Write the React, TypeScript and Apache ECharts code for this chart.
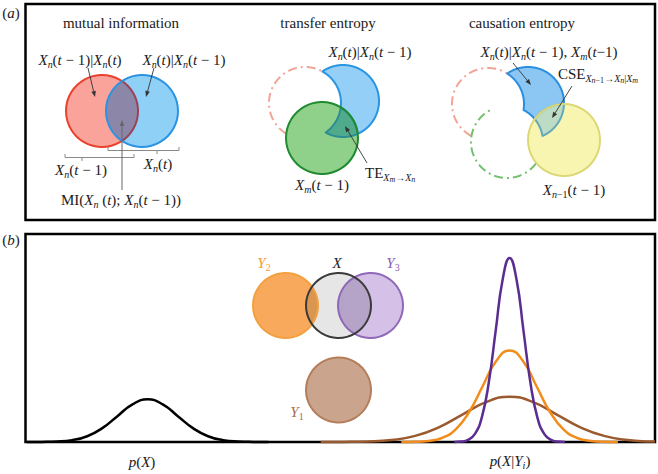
import React, { useEffect, useRef } from 'react';
import * as echarts from 'echarts';

// ---- Panel (b) data: [position across panel (0-100), density (fraction of panel height)] ----
const curvePX: number[][] = [[0.2,0],[2.6,0.0005],[5.0,0.0023],[7.4,0.009],[9.8,0.0277],[12.2,0.0666],[14.6,0.1243],[17.0,0.1809],[19.4,0.205],[21.8,0.1809],[24.2,0.1243],[26.6,0.0666],[29.0,0.0277],[31.4,0.009],[33.8,0.0023],[36.2,0.0005],[38.6,0]];
const curveY1: number[][] = [[46.9,0.0001],[50.65,0.0005],[54.4,0.0024],[58.15,0.0095],[61.9,0.0294],[65.65,0.0705],[69.4,0.1316],[73.15,0.1915],[76.9,0.217],[80.65,0.1915],[84.4,0.1316],[88.15,0.0705],[91.9,0.0294],[95.65,0.0095],[99.4,0.0024],[100,0.0019]];
const curveY2: number[][] = [[59.7,0.0001],[61.85,0.001],[64.0,0.0049],[66.15,0.0193],[68.3,0.0595],[70.45,0.1429],[72.6,0.2669],[74.75,0.3883],[76.9,0.44],[79.05,0.3883],[81.2,0.2669],[83.35,0.1429],[85.5,0.0595],[87.65,0.0193],[89.8,0.0049],[91.95,0.001],[94.1,0.0001]];
const curveY3: number[][] = [[68.1,0.0003],[69.2,0.0019],[70.3,0.0098],[71.4,0.0389],[72.5,0.1197],[73.6,0.2874],[74.7,0.5368],[75.8,0.781],[76.9,0.885],[78.0,0.781],[79.1,0.5368],[80.2,0.2874],[81.3,0.1197],[82.4,0.0389],[83.5,0.0098],[84.6,0.0019],[85.7,0.0003]];
const curveNames = ['p(X)', 'p(X|Y1)', 'p(X|Y2)', 'p(X|Y3)'];
const curveColors = ['#000000', '#9b5a2e', '#f28c1a', '#5a2d91'];

// ---- text / geometry helpers ----
const FF = 'Liberation Serif';
const TXT = '#1a1a1a';

function richSet(color: string) {
  return {
    r: { fontFamily: FF, fontSize: 15, lineHeight: 18, fill: color, verticalAlign: 'middle' },
    i: { fontFamily: FF, fontSize: 15, fontStyle: 'italic', lineHeight: 18, fill: color, verticalAlign: 'middle' },
    s: { fontFamily: FF, fontSize: 10, fontStyle: 'italic', lineHeight: 10, padding: [8, 0, 0, 0], fill: color, verticalAlign: 'middle' },
    sr: { fontFamily: FF, fontSize: 10, lineHeight: 10, padding: [8, 0, 0, 0], fill: color, verticalAlign: 'middle' },
    ss: { fontFamily: FF, fontSize: 8, fontStyle: 'italic', lineHeight: 8, padding: [12, 0, 0, 0], fill: color, verticalAlign: 'middle' },
    ssr: { fontFamily: FF, fontSize: 8, lineHeight: 8, padding: [12, 0, 0, 0], fill: color, verticalAlign: 'middle' },
  };
}
const RICH = richSet(TXT);

function txt(x: number, y: number, text: string, align = 'center', rich: any = RICH) {
  return {
    type: 'text', x, y, silent: true,
    style: { text, rich, align, verticalAlign: 'middle', fontFamily: FF, fontSize: 15, fill: TXT },
  };
}

type Circ = [number, number, number];
const N = 720;
function inside(p: number[], c: Circ) {
  const dx = p[0] - c[0], dy = p[1] - c[1];
  return dx * dx + dy * dy <= c[2] * c[2];
}
function runs(c: Circ, ok: (p: number[]) => boolean): number[][][] {
  const pts: number[][] = [], valid: boolean[] = [];
  for (let i = 0; i < N; i++) {
    const t = (2 * Math.PI * i) / N;
    const p = [c[0] + c[2] * Math.cos(t), c[1] + c[2] * Math.sin(t)];
    pts.push(p);
    valid.push(ok(p));
  }
  if (valid.every((v) => v)) return [pts.concat([pts[0]])];
  const start = valid.findIndex((v) => !v);
  if (start < 0) return [];
  const out: number[][][] = [];
  let cur: number[][] | null = null;
  for (let k = 1; k <= N; k++) {
    const i = (start + k) % N;
    if (valid[i]) {
      if (!cur) { cur = []; out.push(cur); }
      cur.push(pts[i]);
    } else cur = null;
  }
  return out;
}
function region(ins: Circ[], outs: Circ[]): number[][] {
  const arcs: number[][][] = [];
  ins.forEach((c, ci) => {
    runs(c, (p) => ins.every((d, di) => di === ci || inside(p, d)) && outs.every((d) => !inside(p, d))).forEach((r) => arcs.push(r));
  });
  outs.forEach((c, ci) => {
    runs(c, (p) => ins.every((d) => inside(p, d)) && outs.every((d, di) => di === ci || !inside(p, d))).forEach((r) => arcs.push(r.slice().reverse()));
  });
  if (!arcs.length) return [];
  const poly = [...arcs.shift()!];
  while (arcs.length) {
    const last = poly[poly.length - 1];
    let best = 0, bd = Infinity;
    arcs.forEach((a, i) => {
      const d = Math.hypot(a[0][0] - last[0], a[0][1] - last[1]);
      if (d < bd) { bd = d; best = i; }
    });
    poly.push(...arcs.splice(best, 1)[0]);
  }
  return poly;
}
function circ(c: Circ, fill: string, stroke: string, lw = 2) {
  return { type: 'circle', silent: true, shape: { cx: c[0], cy: c[1], r: c[2] }, style: { fill, stroke, lineWidth: lw } };
}
function poly(points: number[][], fill: string, stroke: string, lw = 2) {
  return { type: 'polygon', silent: true, shape: { points }, style: { fill, stroke, lineWidth: lw, lineJoin: 'round' } };
}
function pline(points: number[][], stroke: string, lw = 2, dash: number[] | null = null) {
  return { type: 'polyline', silent: true, shape: { points }, style: { fill: 'none', stroke, lineWidth: lw, lineDash: dash } };
}
function arrow(x1: number, y1: number, x2: number, y2: number, color = '#333', lw = 0.9) {
  const a = Math.atan2(y2 - y1, x2 - x1), L = 6, W = 2.3;
  const bx = x2 - L * Math.cos(a), by = y2 - L * Math.sin(a);
  return [
    { type: 'line', silent: true, shape: { x1, y1, x2: bx, y2: by }, style: { stroke: color, lineWidth: lw } },
    { type: 'polygon', silent: true, shape: { points: [[x2, y2], [bx + W * Math.sin(a), by - W * Math.cos(a)], [bx - W * Math.sin(a), by + W * Math.cos(a)]] }, style: { fill: color } },
  ];
}

function buildGraphics() {
  const els: any[] = [];
  const DASH = [9, 4, 2, 4];
  // panel (a) frame
  els.push({ type: 'rect', silent: true, shape: { x: 25.5, y: 4, width: 629.5, height: 216 }, style: { fill: 'none', stroke: '#000', lineWidth: 2.5 } });

  // mutual information
  const mRed: Circ = [102, 111, 36], mBlue: Circ = [142, 111, 36];
  els.push(circ(mRed, '#f9a39a', '#e8412c'));
  els.push(circ(mBlue, '#8fd0f7', 'none'));
  els.push(poly(region([mRed, mBlue], []), '#8c87a9', 'none'));
  runs(mRed, (p) => inside(p, mBlue)).forEach((a) => els.push(pline(a, '#9a4256', 2)));
  els.push(circ(mBlue, 'none', '#2b93e2'));
  // brackets
  els.push(pline([[65, 154], [65, 157.5], [134, 157.5], [134, 154]], '#8a8a8a', 1));
  els.push(pline([[82, 157.5], [82, 161]], '#8a8a8a', 1));
  els.push(pline([[108, 147], [108, 150.5], [179, 150.5], [179, 147]], '#8a8a8a', 1));
  els.push(pline([[157, 150.5], [157, 154]], '#8a8a8a', 1));
  els.push(...arrow(122, 190, 122, 120, '#666', 1));
  els.push(...arrow(88, 68, 95, 97));
  els.push(...arrow(154, 68, 146, 97));

  // transfer entropy
  const tRed: Circ = [305, 103, 36], tBlue: Circ = [343, 101, 36], tGreen: Circ = [322, 138, 36];
  runs(tRed, (p) => !inside(p, tBlue) && !inside(p, tGreen)).forEach((a) => els.push(pline(a, '#f2a597', 2, DASH)));
  els.push(poly(region([tBlue], [tRed]), '#93cff6', '#2a95e0'));
  els.push(circ(tGreen, '#8fd08b', 'none'));
  els.push(poly(region([tBlue, tGreen], [tRed]), '#4fab8b', '#2c8e94'));
  els.push(circ(tGreen, 'none', '#1f8a2e'));
  els.push(...arrow(367, 163, 345, 126));

  // causation entropy
  const cRed: Circ = [488, 104, 36], cBlue: Circ = [528, 103, 36], cGreen: Circ = [507, 142, 36], cYel: Circ = [564, 140, 36];
  runs(cRed, (p) => !inside(p, cBlue) && !inside(p, cGreen)).forEach((a) => els.push(pline(a, '#f2a597', 2, DASH)));
  runs(cGreen, (p) => !inside(p, cBlue) && !inside(p, cYel)).forEach((a) => els.push(pline(a, '#72c070', 2, DASH)));
  els.push(poly(region([cBlue], [cRed, cGreen]), '#8cc6f2', '#2a8fe0'));
  els.push(circ(cYel, '#f8f5b0', 'none'));
  els.push(poly(region([cBlue, cYel], [cRed, cGreen]), '#bddcc6', '#66a8b8'));
  els.push(circ(cYel, 'none', '#dcd878'));
  els.push(...arrow(513, 63, 531, 85));
  els.push(...arrow(572, 86, 552, 118));

  // panel (a) texts
  els.push(txt(11, 13, '{r|(}{i|a}{r|)}'));
  els.push(txt(121, 23, '{r|mutual information}'));
  els.push(txt(328, 23, '{r|transfer entropy}'));
  els.push(txt(522, 23, '{r|causation entropy}'));
  els.push(txt(80, 60, '{i|X}{s|n}{r|(}{i|t}{r| − 1)|}{i|X}{s|n}{r|(}{i|t}{r|)}'));
  els.push(txt(184, 60, '{i|X}{s|n}{r|(}{i|t}{r|)|}{i|X}{s|n}{r|(}{i|t}{r| − 1)}'));
  els.push(txt(81, 170, '{i|X}{s|n}{r|(}{i|t}{r| − 1)}'));
  els.push(txt(158, 164, '{i|X}{s|n}{r|(}{i|t}{r|)}'));
  els.push(txt(121, 200, '{r|MI(}{i|X}{s|n}{r| (}{i|t}{r|); }{i|X}{s|n}{r|(}{i|t}{r| − 1))}'));
  els.push(txt(370, 52, '{i|X}{s|n}{r|(}{i|t}{r|)|}{i|X}{s|n}{r|(}{i|t}{r| − 1)}'));
  els.push(txt(365, 173, '{r|TE}{s|X}{ss|m}{sr|→}{s|X}{ss|n}', 'left'));
  els.push(txt(322, 185, '{i|X}{s|m}{r|(}{i|t}{r| − 1)}'));
  els.push(txt(549, 52, '{i|X}{s|n}{r|(}{i|t}{r|)|}{i|X}{s|n}{r|(}{i|t}{r| − 1), }{i|X}{s|m}{r|(}{i|t}{r|−1)}'));
  els.push(txt(558, 74, '{r|CSE}{s|X}{ss|n}{ssr|−1}{sr|→}{s|X}{ss|n}{sr||}{s|X}{ss|m}', 'left'));
  els.push(txt(574, 190, '{i|X}{s|n}{sr|−1}{r|(}{i|t}{r| − 1)}'));

  // panel (b) Venn
  const vY2: Circ = [285.5, 305.5, 32.5], vX: Circ = [338.5, 305.5, 32.5], vY3: Circ = [370.5, 305.5, 32.5], vY1: Circ = [338.5, 390, 32.5];
  els.push(circ(vY2, '#f9a95c', 'none'));
  els.push(circ(vX, '#e6e6e6', 'none'));
  els.push(circ(vY3, '#d5c1e7', 'none'));
  els.push(poly(region([vX, vY2], []), '#d99650', 'none'));
  els.push(poly(region([vX, vY3], []), '#b5a3c8', 'none'));
  els.push(circ(vY2, 'none', '#f3a040'));
  els.push(circ(vY3, 'none', '#9068b8'));
  els.push(circ(vX, 'none', '#3a3a3a'));
  els.push(circ(vY1, '#caa48c', '#b47e5a'));
  els.push(txt(11, 240, '{r|(}{i|b}{r|)}'));
  els.push(txt(264, 263, '{i|Y}{sr|2}', 'center', richSet('#f39a35')));
  els.push(txt(337, 263, '{i|X}', 'center', richSet('#222')));
  els.push(txt(393, 263, '{i|Y}{sr|3}', 'center', richSet('#8a5cb5')));
  els.push(txt(297, 412, '{i|Y}{sr|1}', 'center', richSet('#a86c45')));
  els.push(txt(142, 462, '{i|p}{r|(}{i|X}{r|)}'));
  els.push(txt(510, 461, '{i|p}{r|(}{i|X}{r||}{i|Y}{s|i}{r|)}'));
  return els;
}

export default function App() {
  const ref = useRef<HTMLDivElement>(null);
  useEffect(() => {
    if (!ref.current) return;
    const chart = echarts.init(ref.current, null, { renderer: 'svg' });
    const datasets = [curvePX, curveY1, curveY2, curveY3];
    chart.setOption({
      animation: false,
      grid: { left: 25.5, top: 234, width: 629.5, height: 208, show: true, borderColor: '#000', borderWidth: 2.5, backgroundColor: 'transparent' },
      xAxis: { type: 'value', min: 0, max: 100, show: false },
      yAxis: { type: 'value', min: 0, max: 1, show: false },
      series: datasets.map((d, i) => ({
        type: 'line', name: curveNames[i], data: d, showSymbol: false, smooth: 0.5, silent: true, clip: false,
        lineStyle: { color: curveColors[i], width: 2.5 }, z: 3 + i,
      })),
      graphic: { elements: buildGraphics() },
    });
    return () => chart.dispose();
  }, []);
  return <div ref={ref} style={{ position: 'fixed', left: 0, top: 0, width: 658, height: 474, background: '#fff' }} />;
}
